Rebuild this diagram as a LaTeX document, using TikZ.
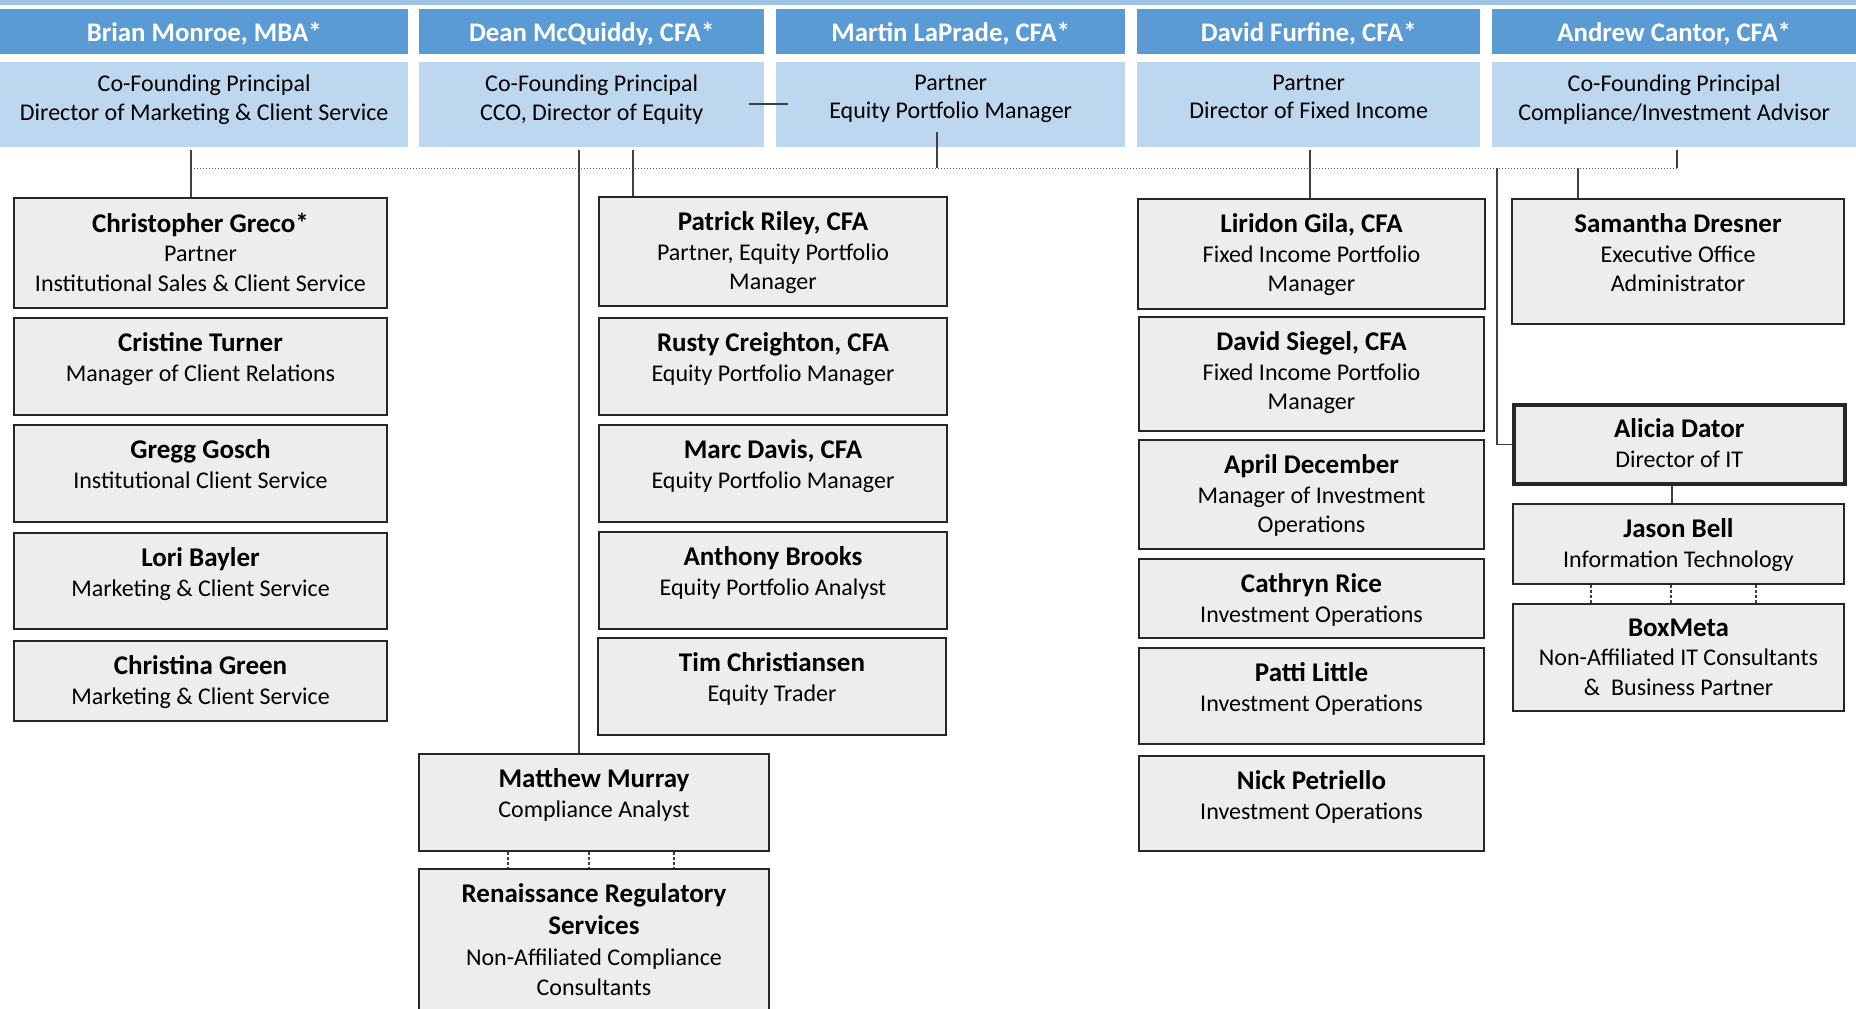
\documentclass[tikz,border=0pt]{standalone}
\usepackage{fontspec}
\setmainfont{Carlito}
\definecolor{hdark}{HTML}{5B9BD5}
\definecolor{hlight}{HTML}{BDD7EE}
\definecolor{hstrip}{HTML}{9DC3E6}
\definecolor{boxfill}{HTML}{EDEDED}
\definecolor{boxline}{HTML}{262626}
\definecolor{conn}{HTML}{404040}
\tikzset{
  hname/.style={fill=hdark, draw=none, anchor=north west, inner sep=0pt, minimum height=45pt},
  hsub/.style={fill=hlight, draw=none, anchor=north west, inner sep=0pt, minimum height=85pt},
  hnametext/.style={text=white, inner sep=0pt, font=\fontsize{26.8}{30}\selectfont\bfseries},
  hsubtext/.style={text=black, inner sep=0pt, align=center, anchor=north, font=\fontsize{24}{28.4}\selectfont},
  cbox/.style={fill=boxfill, draw=boxline, line width=2pt, anchor=north west, inner sep=0pt},
  thickbox/.style={line width=3.5pt},
  ctext/.style={text=black, inner sep=0pt, align=center, anchor=north, font=\fontsize{24}{29.6}\selectfont},
  link/.style={draw=conn, line width=1.4pt},
  dotlink/.style={draw=gray!70!black, line width=1pt, dotted},
  dashlink/.style={draw=conn, line width=1.2pt, dash pattern=on 3pt off 2pt},
}
\newcommand\hdrbox[5]{%
  \node[hname, minimum width={#3-#2}] (#1n) at (#2,9) {};
  \node[hnametext] (#1nt) at ([yshift=-2.5pt]#1n.center) {#4};
  \node[hsub, minimum width={#3-#2}] (#1s) at (#2,62) {};
  \node[hsubtext] (#1st) at ([yshift=-13pt]#1s.north) {#5};
}
\newcommand\childbox[7][]{%
  \node[cbox, #1, minimum width={#4-#2}, minimum height={#5-#3}] (#6) at (#2,#3) {};
  \node[ctext] (#6t) at ([yshift=-15.5pt]#6.north) {#7};
}
\newcommand\nm[1]{{\fontsize{27}{29.6}\selectfont\bfseries #1}}
\begin{document}
\begin{tikzpicture}[x=1pt,y=-1pt]
\useasboundingbox (0,0) rectangle (1856,1009);
\clip (0,0) rectangle (1856,1009);
\fill[white] (0,0) rectangle (1856,1009);
\fill[hstrip] (0,0) rectangle (1856,5);

% header row
\hdrbox{br}{0}{408}{Brian Monroe, MBA*}{Co-Founding Principal\\Director of Marketing \& Client Service}
\hdrbox{dm}{419}{764}{Dean McQuiddy, CFA*}{Co-Founding Principal\\CCO, Director of Equity}
\hdrbox{ml}{776}{1125}{Martin LaPrade, CFA*}{Partner\\Equity Portfolio Manager}
\hdrbox{df}{1137}{1480}{David Furfine, CFA*}{Partner\\Director of Fixed Income}
\hdrbox{ac}{1492}{1856}{Andrew Cantor, CFA*}{Co-Founding Principal\\Compliance/Investment Advisor}

% left column
\childbox{13}{197}{386}{307}{cg}{\nm{Christopher Greco*}\\Partner\\Institutional Sales \& Client Service}
\childbox{13}{317}{386}{414}{ct}{\nm{Cristine Turner}\\Manager of Client Relations}
\childbox{13}{424}{386}{521}{gg}{\nm{Gregg Gosch}\\Institutional Client Service}
\childbox{13}{532}{386}{628}{lb}{\nm{Lori Bayler}\\Marketing \& Client Service}
\childbox{13}{640}{386}{720}{cgr}{\nm{Christina Green}\\Marketing \& Client Service}

% center column
\childbox{598}{196}{946}{305}{pr}{\nm{Patrick Riley, CFA}\\Partner, Equity Portfolio\\Manager}
\childbox{598}{317}{946}{414}{rc}{\nm{Rusty Creighton, CFA}\\Equity Portfolio Manager}
\childbox{598}{424}{946}{521}{md}{\nm{Marc Davis, CFA}\\Equity Portfolio Manager}
\childbox{598}{531}{946}{628}{ab}{\nm{Anthony Brooks}\\Equity Portfolio Analyst}
\childbox{597}{637}{945}{734}{tc}{\nm{Tim Christiansen}\\Equity Trader}

% compliance
\childbox{418}{753}{768}{850}{mm}{\nm{Matthew Murray}\\Compliance Analyst}
\childbox{418}{868}{768}{1030}{rr}{\nm{Renaissance Regulatory}\\[2.5pt]\nm{Services}\\[1.5pt]Non-Affiliated Compliance\\Consultants}

% right-center column
\childbox{1137}{198}{1484}{308}{lg}{\nm{Liridon Gila, CFA}\\Fixed Income Portfolio\\Manager}
\childbox{1138}{316}{1483}{430}{ds}{\nm{David Siegel, CFA}\\Fixed Income Portfolio\\Manager}
\childbox{1138}{439}{1483}{548}{ad}{\nm{April December}\\Manager of Investment\\Operations}
\childbox{1138}{558}{1483}{637}{cr}{\nm{Cathryn Rice}\\Investment Operations}
\childbox{1138}{647}{1483}{743}{pl}{\nm{Patti Little}\\Investment Operations}
\childbox{1138}{755}{1483}{850}{np}{\nm{Nick Petriello}\\Investment Operations}

% right column
\childbox{1511}{198}{1843}{323}{sd}{\nm{Samantha Dresner}\\Executive Office\\Administrator}
\childbox[thickbox]{1512}{403}{1843}{482}{al}{\nm{Alicia Dator}\\Director of IT}
\childbox{1512}{503}{1843}{583}{jb}{\nm{Jason Bell}\\Information Technology}
\childbox{1512}{603}{1843}{710}{bm}{\nm{BoxMeta}\\Non-Affiliated IT Consultants\\\&~ Business Partner}

% connectors
\coordinate (busL) at (191,168);
\coordinate (busR) at (1677,168);
\draw[dotlink] (busL) -- (busR);

\draw[link] ([yshift=-3pt]brs.south -| busL) -- (cg.north -| busL);
\draw[link] ([yshift=-3pt]dms.south -| 579,0) -- (mm.north -| 579,0);
\draw[link] ([yshift=-3pt]dms.south -| 633,0) -- (pr.north -| 633,0);
\draw[link] (937,132) -- (937,168);
\draw[link] ([yshift=-3pt]dfs.south -| 1310,0) -- (lg.north -| 1310,0);
\draw[link] ([yshift=-3pt]acs.south -| busR) -- (busR);
\draw[link] (1578,168) -- (sd.north -| 1578,0);
\draw[link] (1497,168) |- (al.west);
\draw[link] (al.south -| 1672,0) -- (jb.north -| 1672,0);
\draw[link] (749,104) -- (788,104);
\foreach \xx in {1591,1671,1756} \draw[dashlink] (jb.south -| \xx,0) -- (bm.north -| \xx,0);
\foreach \xx in {508,589,674} \draw[dashlink] (mm.south -| \xx,0) -- (rr.north -| \xx,0);
\end{tikzpicture}
\end{document}
